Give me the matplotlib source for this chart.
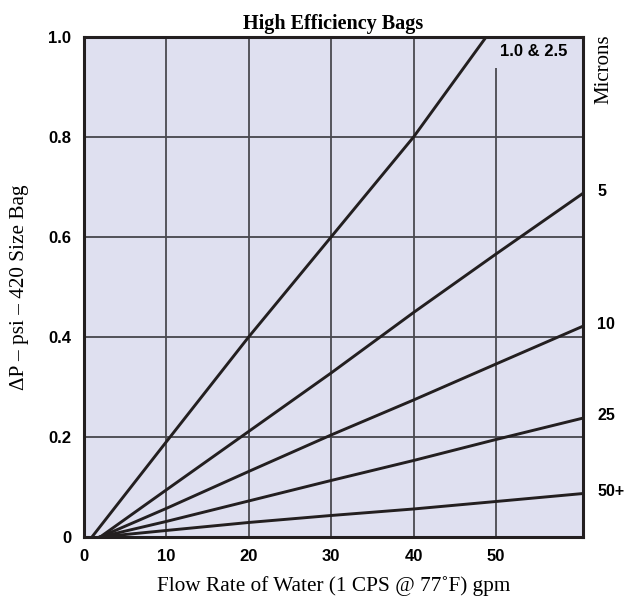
import numpy as np
import matplotlib
matplotlib.use("Agg")
import matplotlib.pyplot as plt

# flow rate (gpm) at each grid line
flow = [2.0, 10, 20, 30, 40, 50, 60.6]
dp_5 = [0, 0.094, 0.211, 0.328, 0.449, 0.566, 0.688]
dp_10 = [0, 0.057, 0.131, 0.204, 0.274, 0.346, 0.422]
dp_25 = [0, 0.031, 0.072, 0.113, 0.153, 0.195, 0.238]
dp_50 = [0, 0.013, 0.029, 0.043, 0.056, 0.071, 0.087]

flow_hi = [1.0, 10, 20, 30, 40, 48.8]
dp_hi = [0, 0.19, 0.40, 0.60, 0.80, 1.0]

right_labels = ["5", "10", "25", "50+"]
xticks = [0, 10, 20, 30, 40, 50]
yticks = [0, 0.2, 0.4, 0.6, 0.8, 1.0]
yticklabels = ["0", "0.2", "0.4", "0.6", "0.8", "1.0"]

serif = "Liberation Serif"
sans = "Liberation Sans"

fig = plt.figure(figsize=(6.27, 6.02), dpi=100)
ax = fig.add_axes([0.1335, 0.108, 0.797, 0.8305])
ax.set_facecolor("#dfe0f0")
ax.set_xlim(0, 60.6)
ax.set_ylim(0, 1.0)

# grid
for yv in yticks[1:-1]:
    ax.axhline(yv, color="#2a2a2e", lw=1.1, zorder=1)
for xv in xticks[1:]:
    top = 0.938 if xv == 50 else 1.0
    ax.vlines(xv, 0, top, color="#4a4a50", lw=1.3, zorder=1)

lc = "#231f20"
ax.plot(flow_hi, dp_hi, color=lc, lw=2.1, zorder=3, solid_capstyle="butt")
for ys in [dp_5, dp_10, dp_25, dp_50]:
    ax.plot(flow, ys, color=lc, lw=2.1, zorder=3)

for s in ax.spines.values():
    s.set_linewidth(2.2)
    s.set_color(lc)

ax.set_xticks(xticks)
ax.set_xticklabels([str(t) for t in xticks], fontfamily=sans, fontweight="bold", fontsize=12)
ax.set_yticks(yticks)
ax.set_yticklabels(yticklabels, fontfamily=sans, fontweight="bold", fontsize=12)
ax.tick_params(length=0, pad=9)

ax.set_title("High Efficiency Bags", fontfamily=serif, fontweight="bold", fontsize=14.5, pad=6)
ax.set_xlabel("Flow Rate of Water (1 CPS @ 77˚F) gpm", fontfamily=serif, fontsize=15.3, labelpad=8)
ax.set_ylabel("ΔP – psi – 420 Size Bag", fontfamily=serif, fontsize=15.3, labelpad=14)

ax.text(54.6, 0.972, "1.0 & 2.5", fontfamily=sans, fontweight="bold", fontsize=12,
        ha="center", va="center", zorder=4)
ax.text(1.04, 0.935, "Microns", transform=ax.transAxes, fontfamily=serif, fontsize=15,
        rotation=90, ha="center", va="center")

for lab, ys in zip(right_labels, [dp_5, dp_10, dp_25, dp_50]):
    ax.text(62.3, ys[-1] + 0.004, lab, fontfamily=sans, fontweight="bold", fontsize=11.5,
            ha="left", va="center", clip_on=False)

fig.savefig("out.png", dpi=100)
